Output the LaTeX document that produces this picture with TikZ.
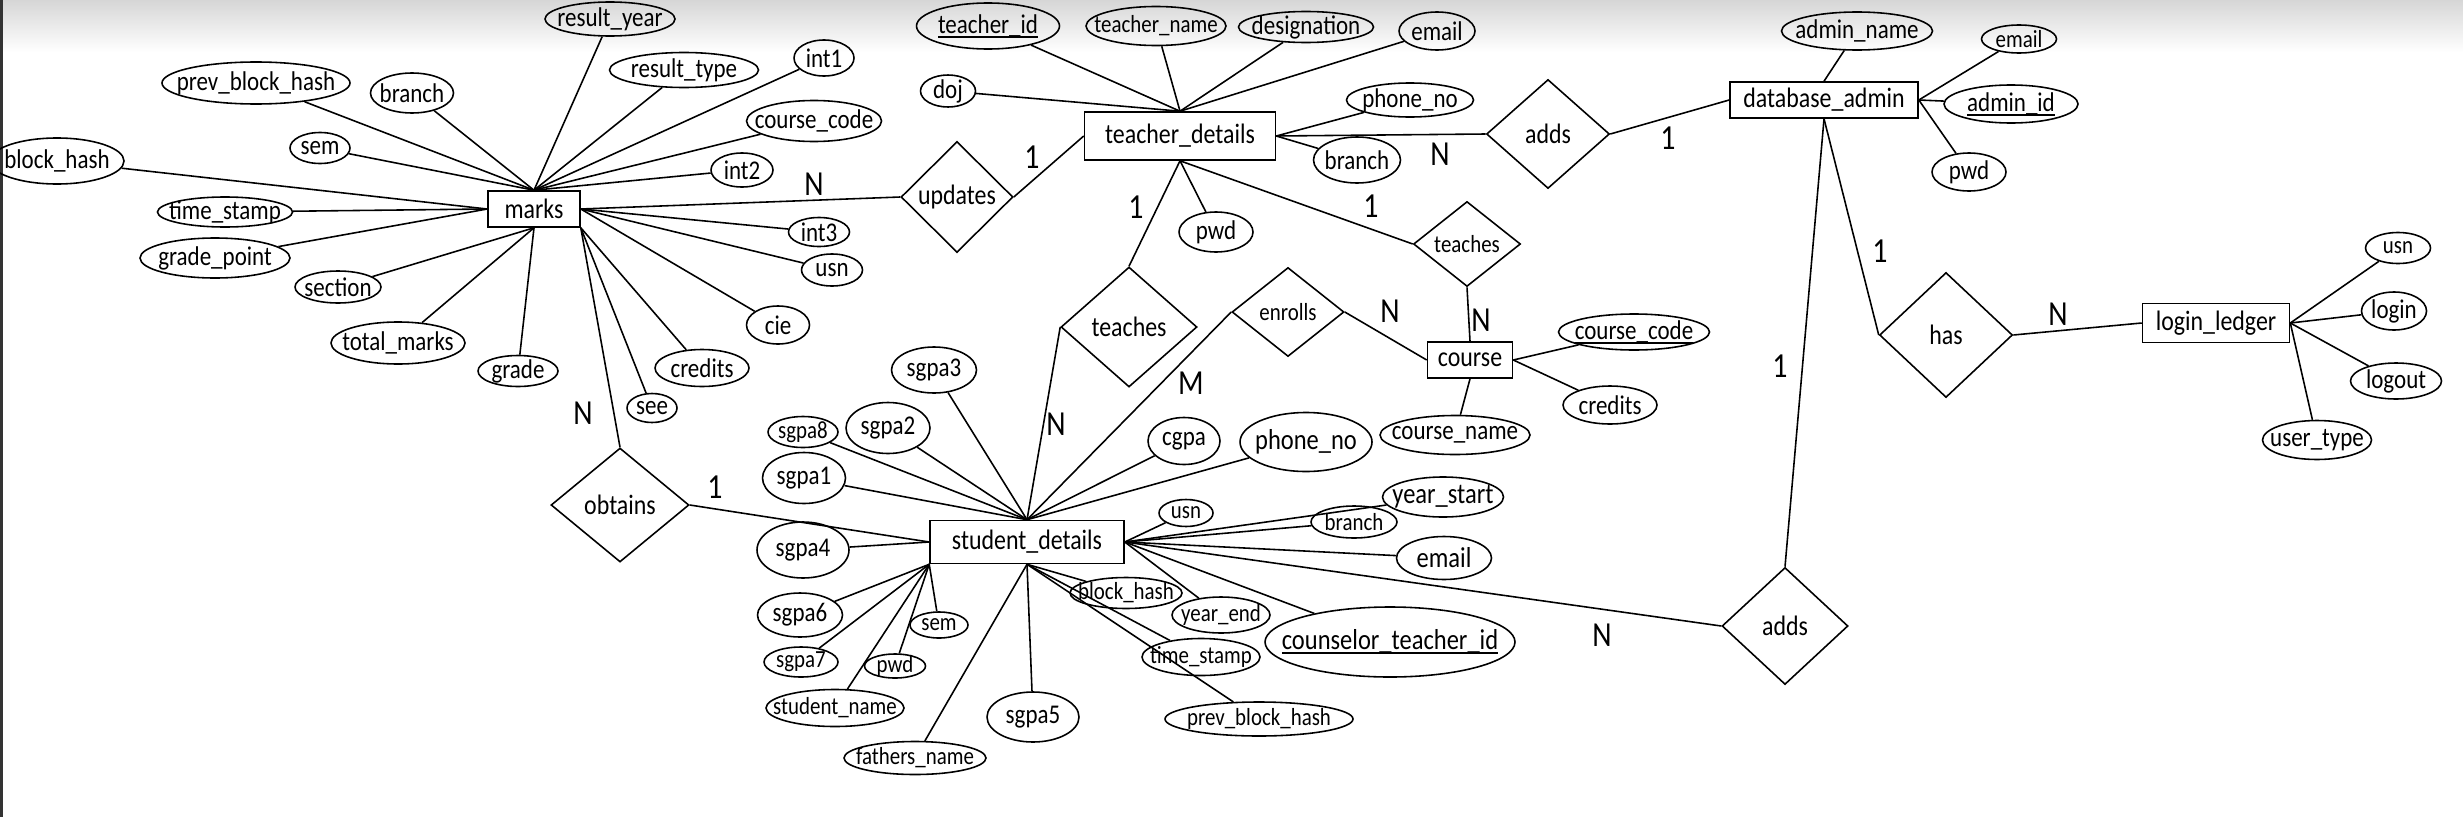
\documentclass[tikz,border=0pt]{standalone}
\usepackage{fontspec}
\setmainfont{Carlito}[FakeStretch=0.85]
\usetikzlibrary{shapes.geometric}

% cle primaire soulignee
\newcommand{\cle}[1]{\setbox0\hbox{#1}\rlap{\raisebox{-1.3pt}{\rule{\wd0}{0.55pt}}}\box0}

\begin{document}
\begin{tikzpicture}[x=1cm, y=-1cm, line width=0.45pt,
    entity/.style 2 args={draw, rectangle, inner sep=0pt, minimum width=#1cm, minimum height=#2cm, font=\fontsize{8}{9}\selectfont},
    rel/.style 2 args={draw, diamond, aspect=1, inner sep=0pt, minimum width=#1cm, minimum height=#2cm, font=\fontsize{8}{9}\selectfont},
    attr/.style 2 args={draw, ellipse, inner sep=-8pt, minimum width=#1cm, minimum height=#2cm, font=\fontsize{7.7}{9}\selectfont},
    sattr/.style 2 args={attr={#1}{#2}, font=\fontsize{7}{8}\selectfont},
    card/.style={font=\fontsize{10}{12}\selectfont}]
  \useasboundingbox (0,0) rectangle (24.63,8.17);

  % Le fond
  \shade[top color=black!16, bottom color=white] (0,0) rectangle (24.63,0.52);
  \fill[black!80] (0,0) rectangle (0.03,8.17);

  % Les entites
  \node[entity={0.92}{0.36}] (marks) at (5.34,2.09) {marks};
  \node[entity={1.91}{0.48}] (td) at (11.80,1.36) {teacher\_details};
  \node[entity={1.88}{0.36}] (dba) at (18.24,1.00) {database\_admin};
  \node[entity={1.47}{0.39}] (ledger) at (22.16,3.23) {login\_ledger};
  \node[entity={0.85}{0.36}] (course) at (14.70,3.60) {course};
  \node[entity={1.94}{0.43}] (sd) at (10.27,5.42) {student\_details};

  % Les relations
  \node[rel={1.12}{1.11}] (updates) at (9.57,1.97) {updates};
  \node[rel={1.23}{1.09}] (addsT) at (15.48,1.34) {adds};
  \node[rel={1.07}{0.85}, font=\fontsize{7}{8}\selectfont] (teachR) at (14.67,2.44) {teaches};
  \node[rel={1.36}{1.20}] (teachL) at (11.29,3.27) {teaches};
  \node[rel={1.12}{0.89}, font=\fontsize{7}{8}\selectfont] (enrolls) at (12.88,3.12) {enrolls};
  \node[rel={1.38}{1.14}] (obtains) at (6.20,5.05) {obtains};
  \node[rel={1.33}{1.25}] (has) at (19.46,3.35) {has};
  \node[rel={1.26}{1.17}] (addsB) at (17.85,6.26) {adds};

  % Les attributs de marks
  \node[attr={1.30}{0.34}] (rYear) at (6.10,0.19) {result\_year};
  \node[attr={1.49}{0.35}] (rType) at (6.84,0.70) {result\_type};
  \node[attr={0.60}{0.36}] (int1) at (8.24,0.58) {int1};
  \node[attr={1.35}{0.41}] (mCode) at (8.14,1.21) {course\_code};
  \node[attr={0.62}{0.34}] (int2) at (7.42,1.70) {int2};
  \node[attr={0.61}{0.29}] (int3) at (8.19,2.32) {int3};
  \node[attr={0.61}{0.32}] (mUsn) at (8.32,2.70) {usn};
  \node[attr={0.63}{0.38}] (cie) at (7.78,3.25) {cie};
  \node[attr={0.94}{0.37}] (mCred) at (7.02,3.68) {credits};
  \node[attr={0.50}{0.29}] (see) at (6.52,4.08) {see};
  \node[attr={0.80}{0.31}] (grade) at (5.18,3.71) {grade};
  \node[attr={1.34}{0.42}] (tMarks) at (3.98,3.43) {total\_marks};
  \node[attr={0.86}{0.32}] (section) at (3.38,2.87) {section};
  \node[attr={1.50}{0.40}] (gPoint) at (2.15,2.58) {grade\_point};
  \node[attr={1.35}{0.30}] (mTime) at (2.25,2.12) {time\_stamp};
  \node[attr={1.34}{0.46}] (mHash) at (0.57,1.61) {block\_hash};
  \node[attr={0.60}{0.31}] (mSem) at (3.20,1.48) {sem};
  \node[attr={1.88}{0.42}] (mPrev) at (2.56,0.83) {prev\_block\_hash};
  \node[attr={0.83}{0.40}] (mBranch) at (4.12,0.93) {branch};

  % Les attributs de teacher_details
  \node[attr={1.43}{0.46}] (tId) at (9.88,0.26) {\cle{teacher\_id}};
  \node[sattr={1.40}{0.39}] (tName) at (11.56,0.26) {teacher\_name};
  \node[attr={1.35}{0.31}] (desig) at (13.06,0.27) {designation};
  \node[attr={0.76}{0.38}] (tMail) at (14.37,0.31) {email};
  \node[attr={0.55}{0.32}] (doj) at (9.48,0.91) {doj};
  \node[attr={1.27}{0.34}] (tPhone) at (14.10,1.00) {phone\_no};
  \node[attr={0.87}{0.46}] (tBranch) at (13.57,1.60) {branch};
  \node[attr={0.74}{0.40}] (tPwd) at (12.16,2.32) {pwd};

  % Les attributs de database_admin
  \node[attr={1.51}{0.38}] (aName) at (18.57,0.31) {admin\_name};
  \node[sattr={0.75}{0.28}] (aMail) at (20.19,0.39) {email};
  \node[attr={1.34}{0.38}] (aId) at (20.11,1.04) {\cle{admin\_id}};
  \node[attr={0.74}{0.38}] (aPwd) at (19.69,1.72) {pwd};

  % Les attributs de login_ledger
  \node[sattr={0.65}{0.31}] (lUsn) at (23.98,2.48) {usn};
  \node[attr={0.65}{0.38}] (login) at (23.94,3.11) {login};
  \node[attr={0.91}{0.36}] (logout) at (23.96,3.81) {logout};
  \node[attr={1.09}{0.39}] (uType) at (23.17,4.40) {user\_type};

  % Les attributs de course
  \node[attr={1.51}{0.36}] (cCode) at (16.34,3.32) {\cle{course\_code}};
  \node[attr={0.94}{0.38}] (cCred) at (16.10,4.05) {credits};
  \node[attr={1.50}{0.39}] (cName) at (14.55,4.35) {course\_name};

  % Les attributs de student_details
  \node[attr={0.85}{0.46}] (sgpa3) at (9.34,3.70) {sgpa3};
  \node[sattr={0.70}{0.31}] (sgpa8) at (8.03,4.32) {sgpa8};
  \node[attr={0.84}{0.51}] (sgpa2) at (8.88,4.28) {sgpa2};
  \node[attr={0.83}{0.51}] (sgpa1) at (8.04,4.78) {sgpa1};
  \node[attr={0.92}{0.56}] (sgpa4) at (8.03,5.50) {sgpa4};
  \node[attr={0.85}{0.44}] (sgpa6) at (8.00,6.15) {sgpa6};
  \node[sattr={0.74}{0.30}] (sgpa7) at (8.01,6.62) {sgpa7};
  \node[sattr={0.61}{0.24}] (sPwd) at (8.95,6.66) {pwd};
  \node[sattr={0.58}{0.26}] (sSem) at (9.39,6.25) {sem};
  \node[sattr={1.38}{0.37}] (sName) at (8.35,7.08) {student\_name};
  \node[sattr={1.42}{0.33}] (fName) at (9.15,7.58) {fathers\_name};
  \node[attr={0.92}{0.50}] (sgpa5) at (10.33,7.17) {sgpa5};
  \node[attr={0.72}{0.47}] (cgpa) at (11.84,4.41) {cgpa};
  \node[attr={1.32}{0.59}, font=\fontsize{8.2}{9}\selectfont] (sPhone) at (13.06,4.42) {phone\_no};
  \node[sattr={0.54}{0.27}] (sUsn) at (11.86,5.13) {usn};
  \node[attr={1.21}{0.40}, font=\fontsize{8.2}{9}\selectfont] (yStart) at (14.43,4.97) {year\_start};
  \node[sattr={0.86}{0.32}] (sBranch) at (13.54,5.22) {branch};
  \node[attr={0.95}{0.43}, font=\fontsize{8.2}{9}\selectfont] (sMail) at (14.44,5.58) {email};
  \node[sattr={1.12}{0.31}] (sHash) at (11.26,5.93) {block\_hash};
  \node[sattr={0.98}{0.36}] (yEnd) at (12.21,6.15) {year\_end};
  \node[sattr={1.18}{0.37}] (sTime) at (12.01,6.57) {time\_stamp};
  \node[attr={2.50}{0.70}, font=\fontsize{8.2}{9}\selectfont] (couns) at (13.90,6.42) {\cle{counselor\_teacher\_id}};
  \node[sattr={1.88}{0.34}] (sPrev) at (12.59,7.19) {prev\_block\_hash};

  % Les liens de marks
  \foreach \a in {mPrev,mBranch,rYear,rType,int1,mCode,int2,mSem}
    \draw (\a) -- (marks.north);
  \foreach \a in {mHash,mTime,gPoint}
    \draw (\a) -- (marks.west);
  \foreach \a in {section,tMarks,grade}
    \draw (\a) -- (marks.south);
  \foreach \a in {int3,mUsn,cie}
    \draw (\a) -- (marks.east);
  \foreach \a in {mCred,see}
    \draw (\a) -- (marks.south east);

  % Les liens de teacher_details
  \foreach \a in {tId,tName,desig,tMail,doj}
    \draw (\a) -- (td.north);
  \foreach \a in {tPhone,tBranch}
    \draw (\a) -- (td.east);
  \draw (tPwd) -- (td.south);

  % Les liens de database_admin et login_ledger
  \draw (aName) -- (dba.north);
  \foreach \a in {aMail,aId,aPwd}
    \draw (\a) -- (dba.east);
  \foreach \a in {lUsn,login,logout,uType}
    \draw (\a) -- (ledger.east);

  % Les liens de course
  \draw (cCode) -- (course.east);
  \draw (cCred) -- (course.east);
  \draw (cName) -- (course.south);

  % Les liens de student_details
  \foreach \a in {sgpa3,sgpa8,sgpa2,sgpa1,cgpa,sPhone}
    \draw (\a) -- (sd.north);
  \draw (sgpa4) -- (sd.west);
  \foreach \a in {sgpa6,sgpa7,sName,sPwd,sSem}
    \draw (\a) -- (sd.south west);
  \foreach \a in {fName,sgpa5,sHash,sTime,sPrev}
    \draw (\a) -- (sd.south);
  \foreach \a in {sUsn,yStart,sBranch,sMail,yEnd,couns}
    \draw (\a) -- (sd.east);

  % Les relations
  \draw (marks.east) -- (updates.west);
  \draw (updates.east) -- (td.west);
  \draw (marks.south east) -- (obtains.north);
  \draw (obtains.east) -- (sd.west);
  \draw (td.east) -- (addsT.west);
  \draw (addsT.east) -- (dba.west);
  \draw (td.south) -- (teachL.north);
  \draw (teachL.west) -- (sd.north);
  \draw (td.south) -- (teachR.west);
  \draw (teachR.south) -- (course.north);
  \draw (enrolls.west) -- (sd.north);
  \draw (enrolls.east) -- (course.west);
  \draw (dba.south) -- (has.west);
  \draw (has.east) -- (ledger.west);
  \draw (dba.south) -- (addsB.north);
  \draw (sd.east) -- (addsB.west);

  % Les cardinalites
  \node[card] (c1) at (8.14,1.84) {N};
  \node[card] (c2) at (10.32,1.57) {1};
  \node[card] (c3) at (11.36,2.07) {1};
  \node[card] (c4) at (13.71,2.06) {1};
  \node[card] (c5) at (14.40,1.54) {N};
  \node[card] (c6) at (16.68,1.38) {1};
  \node[card] (c7) at (18.80,2.51) {1};
  \node[card] (c8) at (20.58,3.14) {N};
  \node[card] (c9) at (17.80,3.66) {1};
  \node[card] (c10) at (16.02,6.35) {N};
  \node[card] (c11) at (13.90,3.11) {N};
  \node[card] (c12) at (14.81,3.20) {N};
  \node[card] (c13) at (11.91,3.83) {M};
  \node[card] (c14) at (10.56,4.24) {N};
  \node[card] (c15) at (5.83,4.13) {N};
  \node[card] (c16) at (7.15,4.87) {1};

\end{tikzpicture}
\end{document}
